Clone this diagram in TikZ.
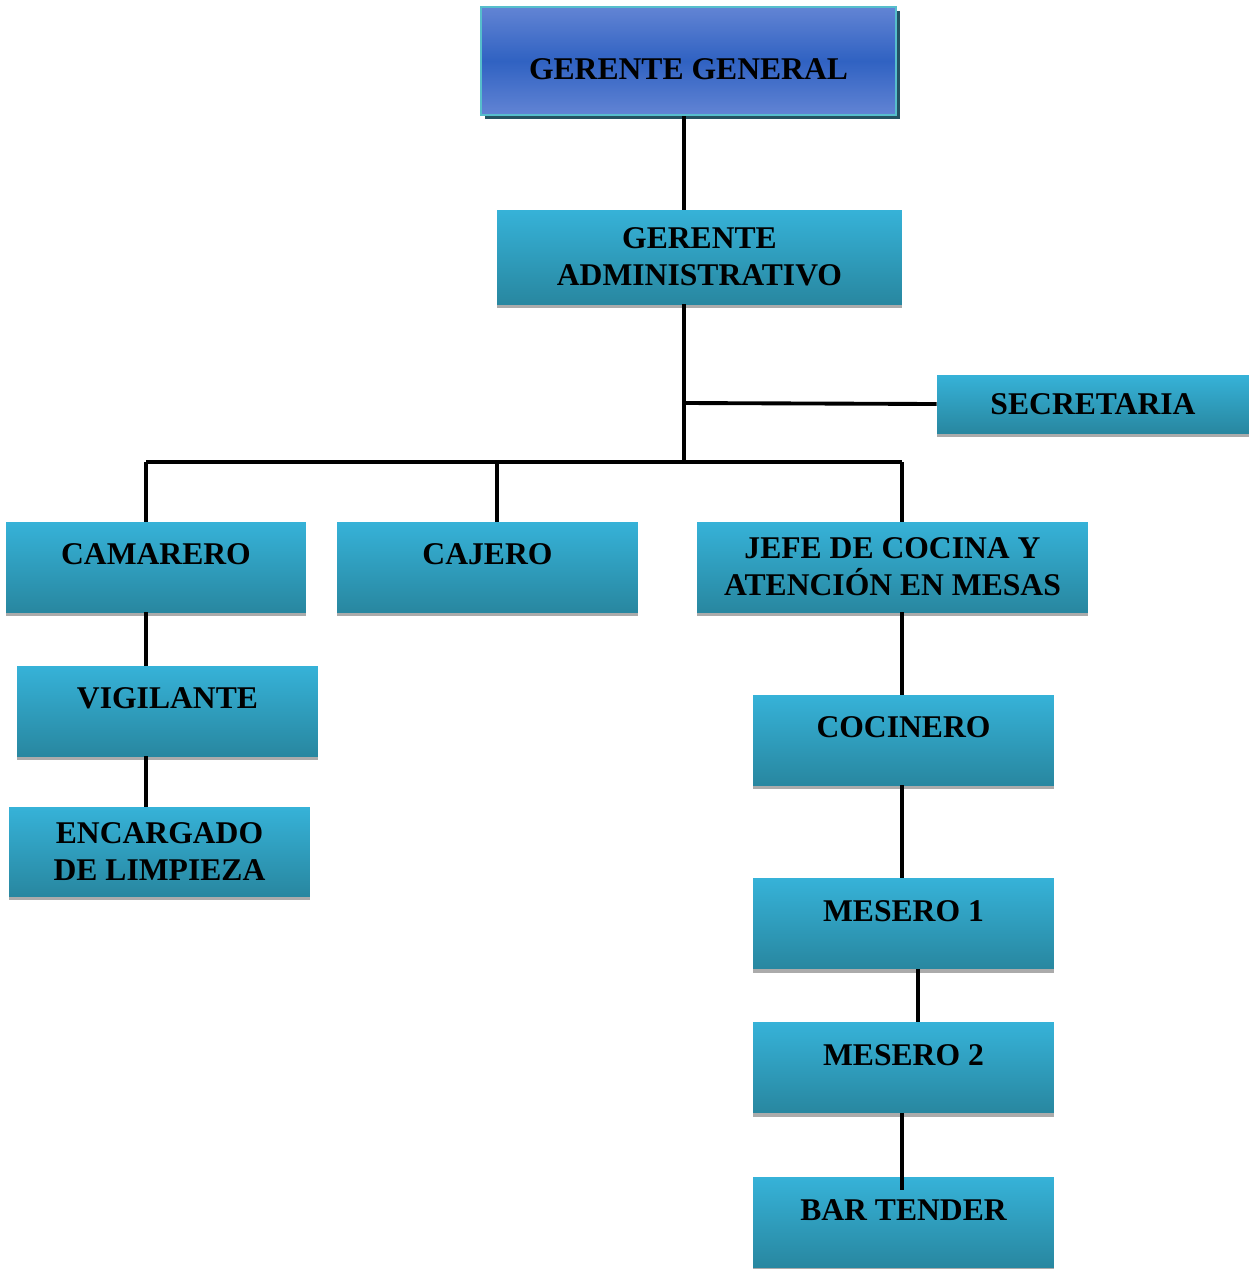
\documentclass[tikz,border=0pt]{standalone}
\usepackage{fontspec}
\setmainfont{Liberation Serif}
\usetikzlibrary{shadows}
\definecolor{cytop}{RGB}{54,178,216}
\definecolor{cybot}{RGB}{40,135,160}
\definecolor{ggtop}{RGB}{98,132,212}
\definecolor{ggmid}{RGB}{48,98,194}
\definecolor{ggline}{RGB}{86,190,204}
\definecolor{ggshadow}{RGB}{36,82,98}
\tikzset{
  cargo/.style={rectangle, minimum width=6.02cm, inner ysep=0pt, text height=0.85cm, text depth=0.95cm,
    top color=cytop, bottom color=cybot, font=\fontsize{18}{21}\selectfont\bfseries, align=center,
    general shadow={shadow yshift=-0.08cm, fill=black!33}},
  cargodos/.style={cargo, text height=, text depth=, minimum height=1.8cm},
  linea/.style={line width=2.2pt}
}
\begin{document}
\begin{tikzpicture}[x=0.02cm,y=-0.02cm]
      \useasboundingbox (0,0) rectangle (1249,1269);

      \node (gg) at (688.5,61) [rectangle, minimum width=8.3cm, inner ysep=0pt, text height=1.44cm, text depth=0.72cm,
        draw=ggline, line width=1.2pt, top color=ggtop, bottom color=ggtop, middle color=ggmid,
        font=\fontsize{18}{21}\selectfont\bfseries,
        general shadow={shadow xshift=0.08cm, shadow yshift=-0.08cm, fill=ggshadow}]{GERENTE GENERAL};
      \node[cargodos, minimum width=8.1cm, minimum height=1.88cm] (ga) at (699.5,257){GERENTE\\ADMINISTRATIVO};
      \node[cargodos, minimum width=6.24cm, minimum height=1.16cm] (sec) at (1093,404){SECRETARIA};

      \node[cargo, minimum width=6cm] (cam) at (156,567){CAMARERO};
      \node[cargo] (caj) at (487.5,567){CAJERO};
      \node[cargodos, minimum width=7.82cm] (jefe) at (892.5,567){JEFE DE COCINA Y\\ATENCIÓN EN MESAS};
      \node[cargo] (vig) at (167.5,711){VIGILANTE};
      \node[cargodos, minimum height=1.78cm] (enc) at (159.5,851.5){ENCARGADO\\DE LIMPIEZA};
      \node[cargo] (coc) at (903.5,740){COCINERO};
      \node[cargo] (mes1) at (903.5,923.5){MESERO 1};
      \node[cargo] (mes2) at (903.5,1067.5){MESERO 2};
      \node[cargo] (bar) at (903.5,1222.5){BAR TENDER};

      \coordinate (bus) at (684,462);
      \coordinate (secj) at (684,403);
      \coordinate (bcam) at (146,462);
      \coordinate (bcaj) at (497,462);
      \coordinate (bjef) at (902,462);
      \coordinate (kx) at (918,0);
      \coordinate (bt) at (902,1190);

      \draw[linea] (gg.south -| bus) -- (ga.north -| bus);
      \draw[linea] (ga.south -| bus) -- (bus);
      \draw[linea] (secj) -- (sec.west);
      \draw[linea] (bcam) -- (bjef);
      \draw[linea] (bcam) -- (bcam |- cam.north);
      \draw[linea] (bcaj) -- (bcaj |- caj.north);
      \draw[linea] (bjef) -- (bjef |- jefe.north);
      \draw[linea] (bcam |- cam.south) -- (bcam |- vig.north);
      \draw[linea] (bcam |- vig.south) -- (bcam |- enc.north);
      \draw[linea] (bjef |- jefe.south) -- (bjef |- coc.north);
      \draw[linea] (bjef |- coc.south) -- (bjef |- mes1.north);
      \draw[linea] (kx |- mes1.south) -- (kx |- mes2.north);
      \draw[linea] (bjef |- mes2.south) -- (bt);
    \end{tikzpicture}
\end{document}
